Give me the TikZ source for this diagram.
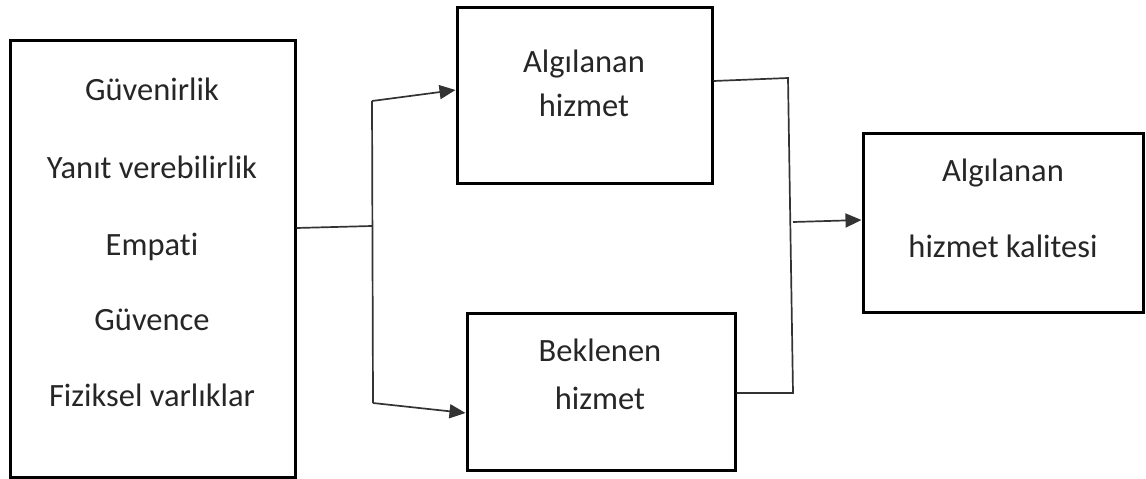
\documentclass[tikz,border=0pt]{standalone}
\usepackage{fontspec}
\setmainfont{Carlito}[Ligatures={NoCommon}]
\usetikzlibrary{arrows.meta}
\tikzset{
  boxnode/.style={draw=black, line width=3pt, minimum width=#1, inner sep=0pt},
  txt/.style={font=\fontsize{32.5}{39}\selectfont, text=black!85, inner sep=0pt, anchor=base},
  conn/.style={draw=black!80, line width=1.7pt},
  arr/.style={conn, -{Triangle[length=16pt,width=14pt]}},
}
\begin{document}
\begin{tikzpicture}[x=1pt,y=-1pt]
\useasboundingbox (0,0) rectangle (1146,479);
% boxes
\node[boxnode=285pt, minimum height=437pt] (L) at (152.5,258.5) {};
\node[boxnode=255pt, minimum height=176pt] (T) at (584.5,95) {};
\node[boxnode=268pt, minimum height=157pt] (B) at (601,391.5) {};
\node[boxnode=280pt, minimum height=179pt] (R) at (1003,222.5) {};
% texts
\node[txt] (l1) at (152,100) {Güvenirlik};
\node[txt] (l2) at (152,178) {Yanıt verebilirlik};
\node[txt] (l3) at (152,255) {Empati};
\node[txt] (l4) at (152,330) {Güvence};
\node[txt] (l5) at (152,406) {Fiziksel varlıklar};
\node[txt] (t1) at (584,72) {Algılanan};
\node[txt] (t2) at (584,116) {hizmet};
\node[txt] (b1) at (600,361) {Beklenen};
\node[txt] (b2) at (600,409) {hizmet};
\node[txt] (r1) at (1003,181) {Algılanan};
\node[txt] (r2) at (1003,257) {hizmet kalitesi};
% coordinates
\coordinate (jm) at (372,226);
\coordinate (ja) at (372,101);
\coordinate (jb) at (373,403);
\coordinate (ta) at (0,90);
\coordinate (ba) at (0,413);
\coordinate (ka) at (788,78);
\coordinate (kt) at (0,81);
\coordinate (kb) at (793,393);
\coordinate (km) at (793,222);
\coordinate (ra) at (0,220);
% connectors
\draw[conn] (L.east |- 0,228) -- (jm);
\draw[conn] (ja) -- (jb);
\draw[arr] (ja) -- (T.west |- ta);
\draw[arr] (jb) -- (B.west |- ba);
\draw[conn] (T.east |- kt) -- (ka) -- (kb) -- (B.east |- kb);
\draw[arr] (km) -- (R.west |- ra);
\end{tikzpicture}
\end{document}
